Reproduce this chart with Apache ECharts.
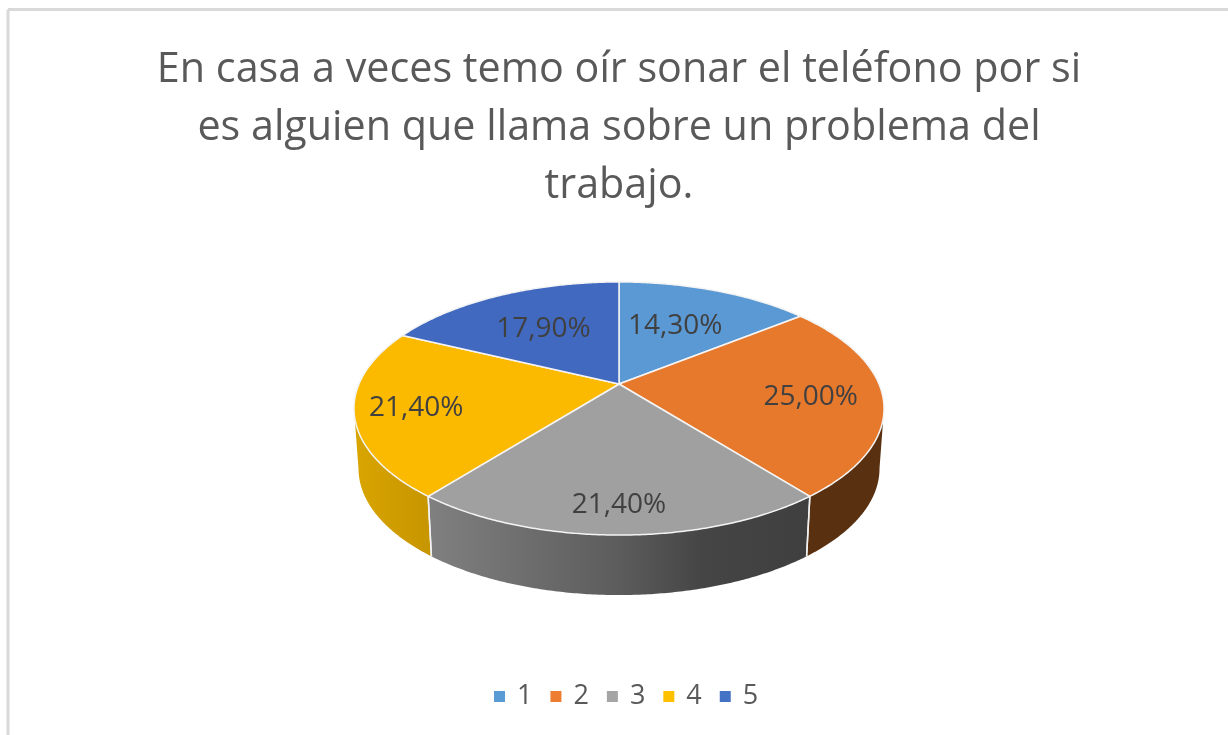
<!DOCTYPE html>
<html>
<head>
<meta charset="utf-8">
<style>html,body{margin:0;padding:0;background:#fff}#c{width:1228px;height:735px}</style>
<script src="https://cdn.jsdelivr.net/npm/echarts@6/dist/echarts.min.js"></script>
</head>
<body>
<div id="c"></div>
<script>
var categories = ['1', '2', '3', '4', '5'];
var percentages = [14.3, 25.0, 21.4, 21.4, 17.9];
var percentLabels = ['14,30%', '25,00%', '21,40%', '21,40%', '17,90%'];
var titleText = 'En casa a veces temo oír sonar el teléfono por si\nes alguien que llama sobre un problema del\ntrabajo.';

var topColors = ['#5b99d4', '#e7792d', '#a0a0a0', '#fbb900', '#4169c0'];
var legendColors = ['#5b9bd5', '#ed7d31', '#a5a5a5', '#ffc000', '#4472c4'];
var wallStops = [
  [[0, '#3d6a94'], [1, '#3d6a94']],
  [[0, '#5a3110'], [1, '#5a3110']],
  [[0, '#808080'], [0.5, '#5c5c5c'], [0.72, '#454545'], [1, '#3f3f3f']],
  [[0, '#d9a500'], [1, '#c69500']],
  [[0, '#2c4a80'], [1, '#2c4a80']]
];
var labelRadius = [0.58, 0.73, 0.835, 0.775, 0.59];
var labelAngleShift = [-1.5, 1.5, 0, -1.5, -0.5];

// Projection of the tilted disc
var hubX = 619, hubY = 384, scaleX = 260, scaleY = 121.8, tilt = -0.1937;
var depth = 60, bottomScale = 0.983;
var visibleFrom = 101.2, visibleTo = 258.8;
var total = percentages.reduce(function (a, b) { return a + b; }, 0);

function project(deg, r) {
  var t = deg * Math.PI / 180;
  var x = Math.sin(t) * r, y = -Math.cos(t) * r;
  var w = 1 + tilt * y;
  return [hubX + scaleX * x / w, hubY + scaleY * y / w];
}
function lower(p) {
  return [hubX + (p[0] - hubX) * bottomScale, p[1] + depth];
}
function arc(a0, a1) {
  var n = Math.max(2, Math.ceil((a1 - a0) * 2)), pts = [];
  for (var i = 0; i <= n; i++) pts.push(project(a0 + (a1 - a0) * i / n, 1));
  return pts;
}

function renderSlice(index) {
  var before = 0;
  for (var i = 0; i < index; i++) before += percentages[i];
  var a0 = before / total * 360;
  var a1 = (before + percentages[index]) / total * 360;
  var children = [];
  var w0 = Math.max(a0, visibleFrom), w1 = Math.min(a1, visibleTo);
  if (w0 < w1) {
    var front = arc(w0, w1);
    children.push({
      type: 'polygon', z2: 1, silent: true,
      shape: { points: front.concat(front.map(lower).reverse()) },
      style: {
        fill: new echarts.graphic.LinearGradient(0, 0, 1, 0,
          wallStops[index].map(function (s) { return { offset: s[0], color: s[1] }; }))
      }
    });
  }
  [a0, a1].forEach(function (a) {
    if (a > visibleFrom && a < visibleTo) {
      var p = project(a, 1);
      children.push({
        type: 'line', z2: 3, silent: true,
        shape: { x1: p[0], y1: p[1], x2: lower(p)[0], y2: lower(p)[1] },
        style: { stroke: '#f2f2f2', lineWidth: 1.5 }
      });
    }
  });
  children.push({
    type: 'polygon', z2: 4, silent: true,
    shape: { points: [[hubX, hubY]].concat(arc(a0, a1)) },
    style: { fill: topColors[index], stroke: '#f4f4f4', lineWidth: 1.5, lineJoin: 'round' }
  });
  var lp = project((a0 + a1) / 2 + labelAngleShift[index], labelRadius[index]);
  children.push({
    type: 'text', z2: 6, silent: true,
    x: lp[0], y: lp[1],
    style: {
      text: percentLabels[index], fill: '#404040',
      font: '28px "Open Sans"', align: 'center', verticalAlign: 'middle'
    }
  });
  return { type: 'group', children: children };
}

var chart = echarts.init(document.getElementById('c'), null, { renderer: 'canvas' });
chart.setOption({
  animation: false,
  backgroundColor: '#ffffff',
  title: {
    text: titleText,
    left: 614, top: 36, textAlign: 'center',
    textStyle: {
      fontFamily: 'Open Sans', fontWeight: 'normal', fontSize: 41.3,
      lineHeight: 58, color: '#595959'
    }
  },
  legend: {
    left: 489, top: 678, itemWidth: 11, itemHeight: 11, itemGap: 18,
    icon: 'rect',
    textStyle: { fontFamily: 'Open Sans', fontSize: 27, color: '#595959', padding: [0, 0, 0, 7] },
    data: categories.map(function (c, i) {
      return { name: c, itemStyle: { color: legendColors[i] } };
    })
  },
  graphic: [
    { type: 'line', silent: true, shape: { x1: 8, y1: 9.5, x2: 1228, y2: 9.5 }, style: { stroke: '#d9d9d9', lineWidth: 3 } },
    { type: 'line', silent: true, shape: { x1: 8, y1: 9.5, x2: 8, y2: 735 }, style: { stroke: '#d9d9d9', lineWidth: 3 } }
  ],
  series: categories.map(function (c, i) {
    return {
      type: 'custom', name: c, coordinateSystem: 'none',
      itemStyle: { color: legendColors[i] },
      data: [[percentages[i]]],
      renderItem: function () { return renderSlice(i); }
    };
  })
});
</script>
</body>
</html>
